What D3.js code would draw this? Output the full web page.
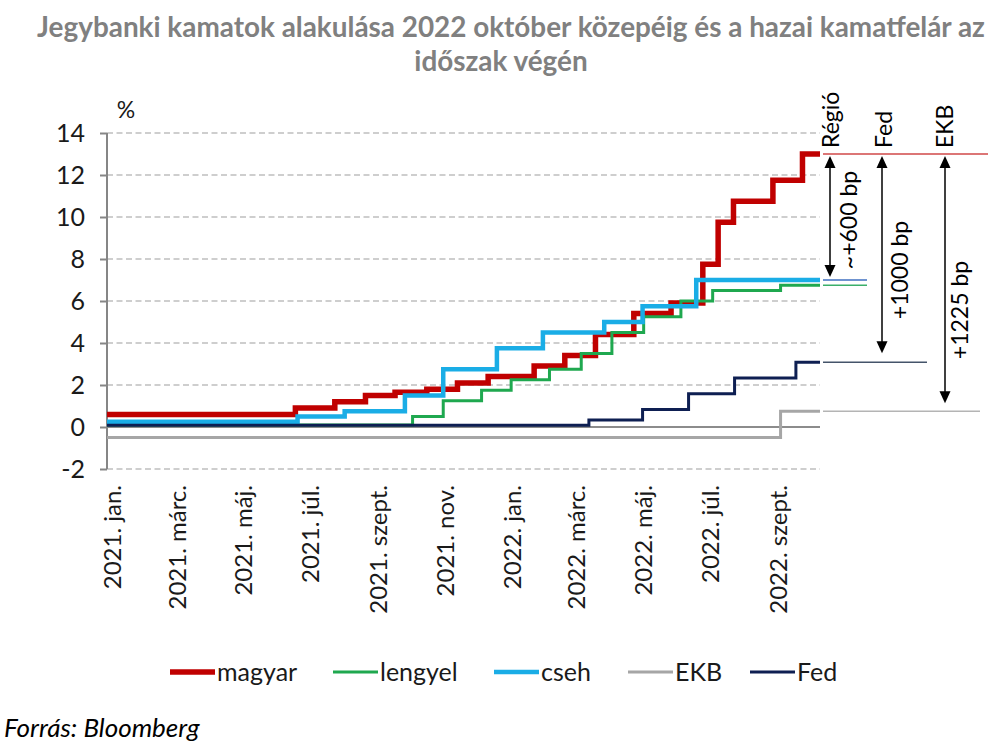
<!DOCTYPE html>
<html><head><meta charset="utf-8">
<script src="https://cdn.jsdelivr.net/npm/d3@7"></script>
<style>
body{margin:0;background:#fff}
svg{display:block}
text{font-family:Lato,"Open Sans",sans-serif}
</style>
</head><body>
<svg id="c" width="1002" height="753"></svg>
<script>
// ---------- DATA ----------
const titleLines = ["Jegybanki kamatok alakulása 2022 október közepéig és a hazai kamatfelár az", "időszak végén"];
const endDate = "2022-10-14";

const magyarDates  = ["2021-01-01","2021-06-22","2021-07-28","2021-08-25","2021-09-21","2021-10-20","2021-11-17","2021-12-15","2022-01-26","2022-02-23","2022-03-23","2022-04-27","2022-05-31","2022-06-29","2022-07-13","2022-07-27","2022-09-01","2022-09-28"];
const magyarValues = [0.6,0.9,1.2,1.5,1.65,1.8,2.1,2.4,2.9,3.4,4.4,5.4,5.9,7.75,9.75,10.75,11.75,13.0];

const lengyelDates  = ["2021-01-01","2021-10-07","2021-11-04","2021-12-09","2022-01-05","2022-02-09","2022-03-10","2022-04-07","2022-05-06","2022-06-09","2022-07-08","2022-09-08"];
const lengyelValues = [0.1,0.5,1.25,1.75,2.25,2.75,3.5,4.5,5.25,6.0,6.5,6.75];

const csehDates  = ["2021-01-01","2021-06-24","2021-08-06","2021-09-30","2021-11-04","2021-12-23","2022-02-03","2022-03-31","2022-05-05","2022-06-23"];
const csehValues = [0.25,0.5,0.75,1.5,2.75,3.75,4.5,5.0,5.75,7.0];

const ekbDates  = ["2021-01-01","2022-09-08"];
const ekbValues = [-0.5,0.75];

const fedDates  = ["2021-01-01","2022-03-17","2022-05-05","2022-06-16","2022-07-28","2022-09-22"];
const fedValues = [0.08,0.33,0.83,1.58,2.33,3.08];

const seriesNames = ["magyar","lengyel","cseh","EKB","Fed"];
const yTicks = [-2,0,2,4,6,8,10,12,14];
const yTickLabels = ["-2","0","2","4","6","8","10","12","14"];
const xTickDates  = ["2021-01-01","2021-03-01","2021-05-01","2021-07-01","2021-09-01","2021-11-01","2022-01-01","2022-03-01","2022-05-01","2022-07-01","2022-09-01"];
const xTickLabels = ["2021. jan.","2021. márc.","2021. máj.","2021. júl.","2021. szept.","2021. nov.","2022. jan.","2022. márc.","2022. máj.","2022. júl.","2022. szept."];
const spreadGroups = ["Régió","Fed","EKB"];
const spreadLabels = ["~+600 bp","+1000 bp","+1225 bp"];
const sourceText = "Forrás: Bloomberg";

// ---------- STYLE ----------
const colors = {magyar:"#C00000", lengyel:"#1FA84F", cseh:"#1AADE6", EKB:"#A6A6A6", Fed:"#0E1F52"};
const widths = {magyar:5.5, lengyel:3, cseh:4.5, EKB:3, Fed:3};

const parse = d3.timeParse("%Y-%m-%d");
const svg = d3.select("#c");

const x = d3.scaleTime().domain([parse("2021-01-01"), parse(endDate)]).range([107, 820]);
const y = d3.scaleLinear().domain([-2, 14]).range([469, 133]);

function build(dates, vals){
  const pts = dates.map((d,i)=>({d:parse(d), v:vals[i]}));
  pts.push({d:parse(endDate), v:vals[vals.length-1]});
  return pts;
}
const series = {
  magyar: build(magyarDates, magyarValues),
  lengyel: build(lengyelDates, lengyelValues),
  cseh: build(csehDates, csehValues),
  EKB: build(ekbDates, ekbValues),
  Fed: build(fedDates, fedValues)
};

// ---------- TITLE ----------
const title = svg.append("g");
const t1 = title.append("text").attr("x",511).attr("y",37).attr("text-anchor","middle")
  .attr("font-weight","bold").attr("fill","#808080").attr("font-size",24).text(titleLines[0]);
const w = t1.node().getComputedTextLength();
const fs = 24*948/w;
t1.attr("font-size", fs);
title.append("text").attr("x",501).attr("y",71).attr("text-anchor","middle")
  .attr("font-weight","bold").attr("fill","#808080").attr("font-size",fs).text(titleLines[1]);

// ---------- GRID ----------
svg.append("g").selectAll("line").data(yTicks.filter(v=>v!==0)).join("line")
  .attr("x1",107).attr("x2",820).attr("y1",d=>y(d)).attr("y2",d=>y(d))
  .attr("stroke","#BFBFBF").attr("stroke-width",1.5).attr("stroke-dasharray","6,3.5");

// y axis
const ya = svg.append("g").attr("transform","translate(107,0)")
  .call(d3.axisLeft(y).tickValues(yTicks).tickSize(7).tickFormat((d,i)=>yTickLabels[i]));
ya.select(".domain").attr("stroke","#868686").attr("stroke-width",2).attr("d","M0,"+y(14)+"V"+y(-2));
ya.selectAll(".tick line").attr("stroke","#868686").attr("stroke-width",2);
ya.selectAll(".tick text").attr("font-size",25).attr("fill","#1a1a1a").attr("x",-22)
  .attr("font-family","Lato, sans-serif");

// zero line
svg.append("line").attr("x1",107).attr("x2",820).attr("y1",y(0)).attr("y2",y(0))
  .attr("stroke","#8C8C8C").attr("stroke-width",2);

svg.append("text").attr("x",126).attr("y",118).attr("text-anchor","middle")
  .attr("font-size",23).attr("fill","#1a1a1a").text("%");

// x labels
svg.append("g").selectAll("text").data(xTickDates).join("text")
  .attr("transform",d=>`translate(${x(parse(d))+14},485) rotate(-90)`)
  .attr("text-anchor","end").attr("font-size",24).attr("fill","#1a1a1a")
  .text((d,i)=>xTickLabels[i]);

// ---------- LINES ----------
const line = d3.line().x(p=>x(p.d)).y(p=>y(p.v)).curve(d3.curveStepAfter);
svg.append("g").selectAll("path").data(seriesNames).join("path")
  .attr("d",n=>line(series[n])).attr("fill","none")
  .attr("stroke",n=>colors[n]).attr("stroke-width",n=>widths[n])
  .attr("stroke-linejoin","miter");

// ---------- SPREAD ANNOTATIONS ----------
const last = n => series[n][series[n].length-1].v;
const lvlLines = [
  {n:"magyar", x2:988, c:"#D04848"},
  {n:"cseh", x2:867, c:"#3F6FC0"},
  {n:"lengyel", x2:867, c:"#3BAF6A"},
  {n:"Fed", x2:927, c:"#44546A"},
  {n:"EKB", x2:980, c:"#B4B4B4"}
];
svg.append("g").selectAll("line").data(lvlLines).join("line")
  .attr("x1",823).attr("x2",d=>d.x2).attr("y1",d=>y(last(d.n))).attr("y2",d=>y(last(d.n)))
  .attr("stroke",d=>d.c).attr("stroke-width",1.5);

const arrowX = [830, 882, 945];
const arrowTo = [last("cseh"), last("Fed"), last("EKB")];
const arrowGap = [3, 9, 8];
const ag = svg.append("g");
arrowX.forEach((ax,i)=>{
  const top = y(last("magyar"))+2, bot = y(arrowTo[i]) - arrowGap[i];
  ag.append("line").attr("x1",ax).attr("x2",ax).attr("y1",top+10).attr("y2",bot-10)
    .attr("stroke","#000").attr("stroke-width",1.5);
  ag.append("path").attr("d",`M${ax},${top} L${ax-5.5},${top+12} L${ax+5.5},${top+12} Z`).attr("fill","#000");
  ag.append("path").attr("d",`M${ax},${bot} L${ax-5.5},${bot-12} L${ax+5.5},${bot-12} Z`).attr("fill","#000");
});

const groupBase = [839, 892, 953];
spreadGroups.forEach((g,i)=>{
  svg.append("text").attr("transform",`translate(${groupBase[i]},148) rotate(-90)`)
    .attr("font-size",23).attr("fill","#000").text(g);
});
const labBase = [857, 908, 968];
const labCenter = [220, 270, 310];
spreadLabels.forEach((g,i)=>{
  svg.append("text").attr("transform",`translate(${labBase[i]},${labCenter[i]}) rotate(-90)`)
    .attr("text-anchor","middle").attr("font-size",23).attr("fill","#000").text(g);
});

// ---------- LEGEND ----------
const legX = [170, 333, 494, 628, 750];
const lg = svg.append("g").selectAll("g").data(seriesNames).join("g")
  .attr("transform",(d,i)=>`translate(${legX[i]},672)`);
lg.append("line").attr("x1",0).attr("x2",45).attr("y1",0).attr("y2",0)
  .attr("stroke",d=>colors[d]).attr("stroke-width",d=>widths[d]);
lg.append("text").attr("x",47).attr("y",0).attr("dy","0.35em").attr("font-size",25)
  .attr("fill","#1a1a1a").text(d=>d);

// ---------- SOURCE ----------
svg.append("text").attr("x",4).attr("y",737).attr("font-style","italic").attr("font-size",26)
  .attr("fill","#000").text(sourceText);
</script>
</body></html>
